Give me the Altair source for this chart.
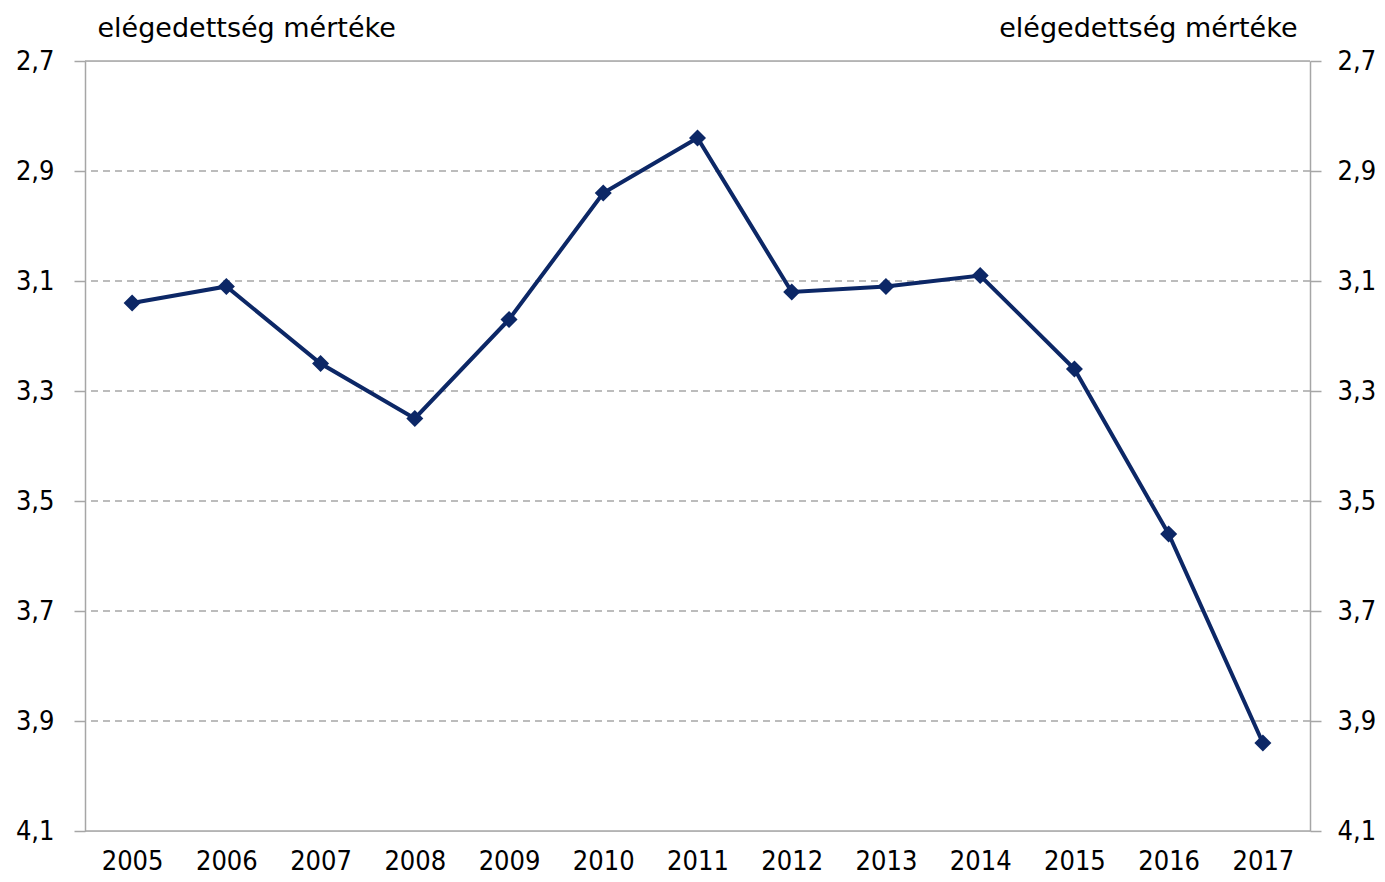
import altair as alt
import pandas as pd

years = ["2005", "2006", "2007", "2008", "2009", "2010", "2011", "2012", "2013", "2014", "2015", "2016", "2017"]
values = [3.14, 3.11, 3.25, 3.35, 3.17, 2.94, 2.84, 3.12, 3.11, 3.09, 3.26, 3.56, 3.94]
y_ticks = [2.7, 2.9, 3.1, 3.3, 3.5, 3.7, 3.9, 4.1]
axis_title = "elégedettség mértéke"

df = pd.DataFrame({"year": years, "value": values})
grid_df = pd.DataFrame({"g": y_ticks[1:-1]})
edge_df = pd.DataFrame({"g": [y_ticks[0], y_ticks[-1]]})

LFONT = "DejaVu Sans Condensed"
TFONT = "DejaVu Sans"
GRAY = "#a6a6a6"
NAVY = "#0c2766"
FS = 27
TFS = 27

x = alt.X("year:O", sort=years, title=None,
          scale=alt.Scale(padding=0.5),
          axis=alt.Axis(labelAngle=0, ticks=False, domain=False, labelPadding=17,
                        labelFont=LFONT, labelFontSize=FS, labelColor="#000000"))

yscale = alt.Scale(domain=[2.7, 4.1], reverse=True, nice=False, zero=False)

common = dict(values=y_ticks, format=".1f", grid=False,
              labelExpr="replace(datum.label, '.', ',')",
              domainColor=GRAY, domainWidth=1.5, tickColor=GRAY, tickSize=11, tickWidth=1.5,
              labelFont=LFONT, labelFontSize=FS, labelColor="#000000",
              titleAngle=0, titleBaseline="alphabetic", titleY=-25,
              titleFont=TFONT, titleFontSize=TFS, titleFontWeight="normal", titleColor="#000000")

grid = alt.Chart(grid_df).mark_rule(color=GRAY, strokeWidth=1.3, strokeDash=[7, 5]).encode(
    y=alt.Y("g:Q", scale=yscale, title=axis_title,
            axis=alt.Axis(orient="left", labelPadding=20, titleAlign="left", titleX=12, **common)),
)

edges = alt.Chart(edge_df).mark_rule(color=GRAY, strokeWidth=1.5).encode(
    y=alt.Y("g:Q", scale=yscale, axis=None),
)

base = alt.Chart(df)

line = base.mark_line(color=NAVY, strokeWidth=4).encode(
    x=x,
    y=alt.Y("value:Q", scale=yscale, axis=None),
)

pts = base.mark_point(shape="diamond", filled=True, size=290, color=NAVY, opacity=1).encode(
    x=x,
    y=alt.Y("value:Q", scale=yscale, title=axis_title,
            axis=alt.Axis(orient="right", labelPadding=16, titleAlign="right", titleX=-13, **common)),
)

chart = alt.layer(grid, edges, line, pts).resolve_axis(y="independent").properties(
    width=1225, height=770,
    autosize=alt.AutoSizeParams(type="none"),
    padding={"left": 77, "top": 53, "right": 67, "bottom": 43},
).configure_view(stroke=None).configure(background="white")

chart.save("out.html", embed_options={"renderer": "svg", "actions": False})
